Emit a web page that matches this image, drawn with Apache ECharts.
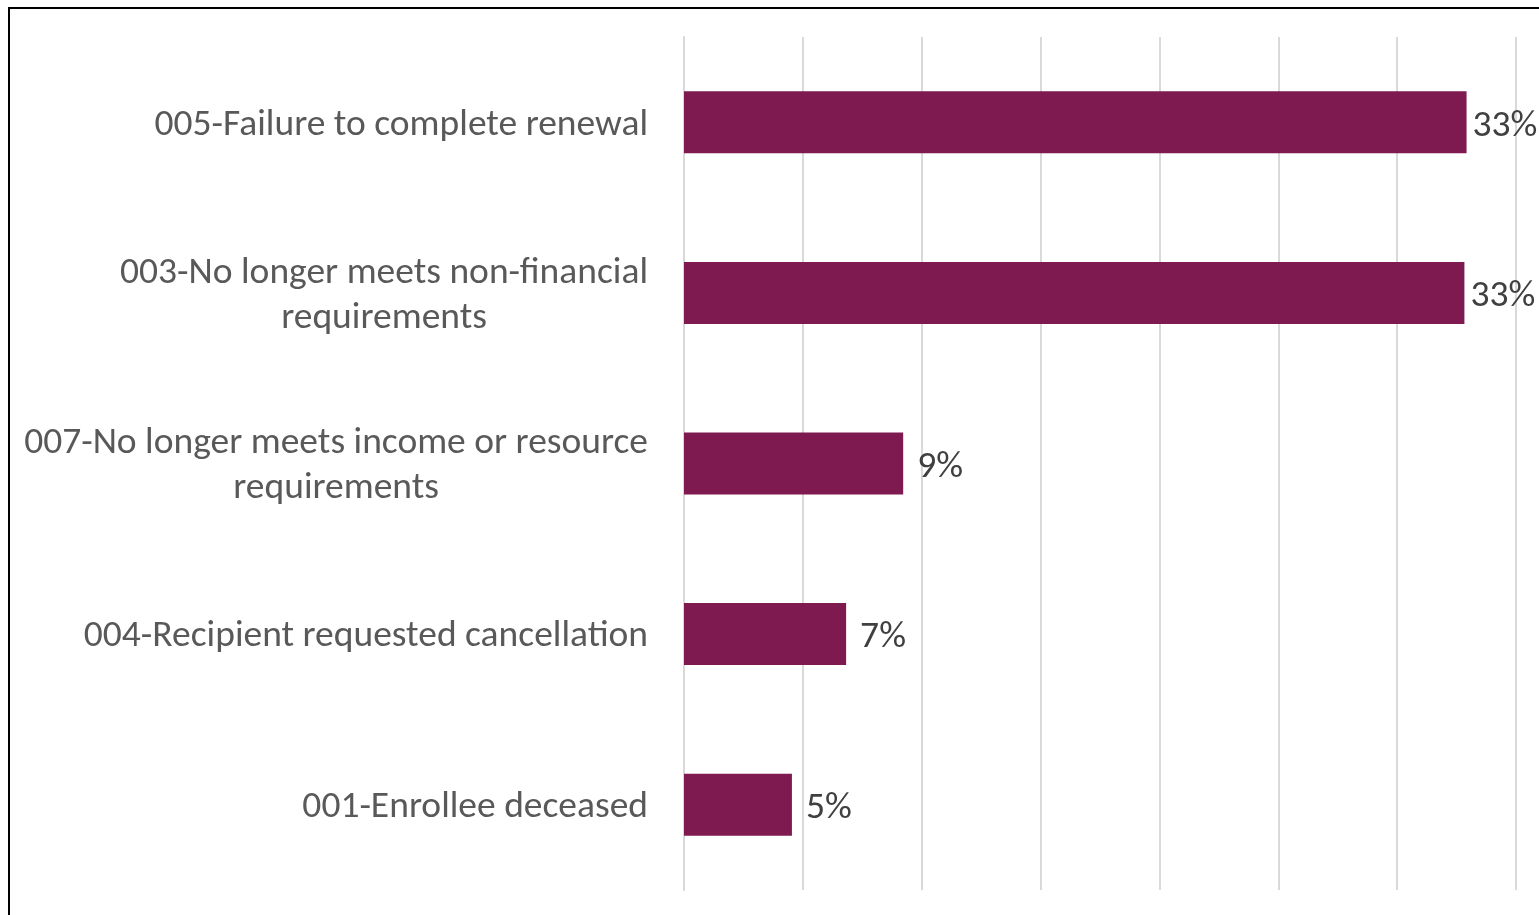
<!DOCTYPE html>
<html>
<head>
<meta charset="utf-8">
<title>Disenrollment reasons</title>
<script src="https://cdn.jsdelivr.net/npm/echarts@6/dist/echarts.min.js"></script>
<style>
  html, body { margin: 0; padding: 0; background: #ffffff; overflow: hidden; }
  #chart { position: absolute; left: 0; top: 0; width: 1539px; height: 915px; }
  #frame {
    position: absolute; left: 8px; top: 7px; width: 1600px; height: 1000px;
    border-left: 2px solid #000; border-top: 2px solid #000; pointer-events: none;
  }
</style>
</head>
<body>
<div id="chart"></div>
<div id="frame"></div>
<script>
// Reasons for case closure, top to bottom
const categories = [
  '005-Failure to complete renewal',
  '003-No longer meets non-financial\nrequirements',
  '007-No longer meets income or resource\nrequirements',
  '004-Recipient requested cancellation',
  '001-Enrollee deceased'
];
// Share of closures for each reason
const shares = [0.3292, 0.3283, 0.0922, 0.0682, 0.0454];

const axisMax = 0.35;
const axisStep = 0.05;

const FONT = 'Carlito, Lato, sans-serif';
const SIZE = 37.5;

// Labels near the right edge sit closer to their bar so they stay on the canvas
const barData = shares.map(function (v) {
  return { value: v, label: { distance: v > axisMax * 0.9 ? 6 : 14 } };
});

const chart = echarts.init(document.getElementById('chart'), null, { renderer: 'canvas' });

chart.setOption({
  animation: false,
  backgroundColor: '#ffffff',
  grid: { left: 684, right: 23, top: 37, bottom: 25, containLabel: false },
  xAxis: {
    type: 'value',
    min: 0,
    max: axisMax,
    interval: axisStep,
    axisLabel: { show: false },
    axisLine: { show: false },
    axisTick: { show: false },
    splitLine: { show: true, lineStyle: { color: '#D9D9D9', width: 2 } }
  },
  yAxis: {
    type: 'category',
    inverse: true,
    data: categories,
    axisLine: { show: true, lineStyle: { color: '#D9D9D9', width: 2 } },
    axisTick: { show: false },
    axisLabel: {
      margin: 36,
      align: 'right',
      fontFamily: FONT,
      fontSize: SIZE,
      color: '#595959',
      lineHeight: 45,
      padding: [6, 0, 0, 0],
      formatter: function (v) {
        return v.split('\n').map(function (s) { return '{c|' + s + '}'; }).join('\n');
      },
      rich: {
        c: { align: 'center', fontFamily: FONT, fontSize: SIZE, color: '#595959', lineHeight: 45 }
      }
    }
  },
  series: [{
    type: 'bar',
    data: barData,
    barWidth: 62,
    itemStyle: { color: '#7E1A4F' },
    label: {
      show: true,
      position: 'right',
      distance: 14,
      offset: [0, 4],
      fontFamily: FONT,
      fontSize: SIZE,
      color: '#404040',
      formatter: function (p) { return Math.round(p.value * 100) + '%'; }
    }
  }]
});
</script>
</body>
</html>
